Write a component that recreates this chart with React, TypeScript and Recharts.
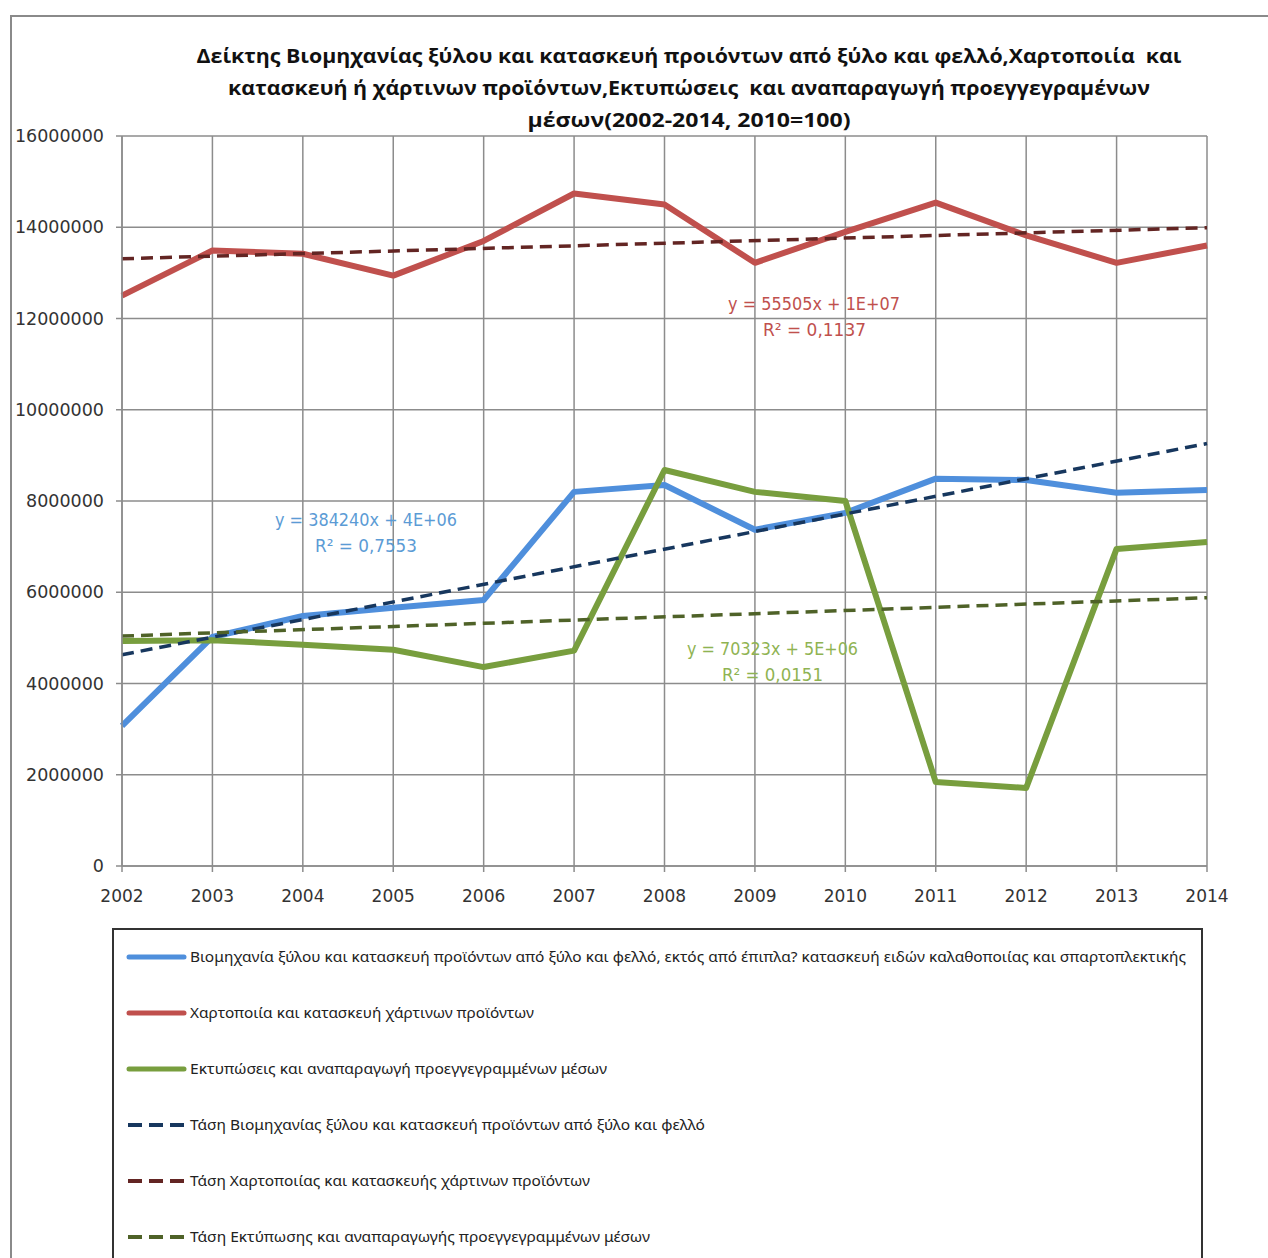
import React from "react";
import { LineChart, Line, XAxis, YAxis, CartesianGrid } from "recharts";

const years = [2002, 2003, 2004, 2005, 2006, 2007, 2008, 2009, 2010, 2011, 2012, 2013, 2014];
const woodValues = [3070000, 5020000, 5480000, 5660000, 5830000, 8200000, 8350000, 7370000, 7740000, 8490000, 8460000, 8180000, 8240000];
const paperValues = [12500000, 13490000, 13420000, 12940000, 13700000, 14740000, 14500000, 13220000, 13900000, 14540000, 13820000, 13220000, 13600000];
const printValues = [4930000, 4950000, 4850000, 4740000, 4360000, 4720000, 8680000, 8200000, 8000000, 1840000, 1710000, 6950000, 7100000];
const woodTrend = [4630000, null, null, null, null, null, null, null, null, null, null, null, 9260000];
const paperTrend = [13310000, null, null, null, null, null, null, null, null, null, null, null, 13990000];
const printTrend = [5040000, null, null, null, null, null, null, null, null, null, null, null, 5880000];
const yTicks = [0, 2000000, 4000000, 6000000, 8000000, 10000000, 12000000, 14000000, 16000000];

const titleLines = [
  "Δείκτης Βιομηχανίας ξύλου και κατασκευή προιόντων από ξύλο και φελλό,Χαρτοποιία  και",
  "κατασκευή ή χάρτινων προϊόντων,Εκτυπώσεις  και αναπαραγωγή προεγγεγραμένων",
  "μέσων(2002-2014, 2010=100)",
];

const legendNames = [
  "Βιομηχανία ξύλου και κατασκευή προϊόντων από ξύλο και φελλό, εκτός από έπιπλα? κατασκευή ειδών καλαθοποιίας και σπαρτοπλεκτικής",
  "Χαρτοποιία και κατασκευή χάρτινων προϊόντων",
  "Εκτυπώσεις και αναπαραγωγή προεγγεγραμμένων μέσων",
  "Τάση Βιομηχανίας ξύλου και κατασκευή προϊόντων από ξύλο και φελλό",
  "Τάση Χαρτοποιίας και κατασκευής χάρτινων προϊόντων",
  "Τάση Εκτύπωσης και αναπαραγωγής προεγγεγραμμένων μέσων",
];

const equations = [
  { a: "y = 55505x + 1E+07", b: "R² = 0,1137" },
  { a: "y = 384240x + 4E+06", b: "R² = 0,7553" },
  { a: "y = 70323x + 5E+06", b: "R² = 0,0151" },
];

const data = years.map((year, i) => ({
  year,
  wood: woodValues[i],
  paper: paperValues[i],
  print: printValues[i],
  woodTrend: woodTrend[i],
  paperTrend: paperTrend[i],
  printTrend: printTrend[i],
}));

const BLUE = "#4f8fdc";
const RED = "#c0504d";
const GREEN = "#789e3e";
const NAVY = "#17375e";
const DRED = "#632523";
const OLIVE = "#4f6228";

const legendStyles = [
  { color: BLUE, dashed: false, width: 996 },
  { color: RED, dashed: false, width: 344 },
  { color: GREEN, dashed: false, width: 417 },
  { color: NAVY, dashed: true, width: 515 },
  { color: DRED, dashed: true, width: 400 },
  { color: OLIVE, dashed: true, width: 460 },
];

export default function App() {
  const titleBase = [63, 95, 127];
  const titleWidths = [985, 922, 323];
  const eqPos = [
    { x: 728, y: 310, wa: 172, xb: 763, wb: 103, c: "#c0504d" },
    { x: 275, y: 526, wa: 182, xb: 315, wb: 102, c: "#5b9bd5" },
    { x: 687, y: 655, wa: 171, xb: 722, wb: 101, c: "#8fb352" },
  ];
  return (
    <div style={{ position: "absolute", left: 0, top: 0, width: 1268, height: 1258, background: "#fff", overflow: "hidden" }}>
      <div style={{ position: "absolute", left: 0, top: 0 }}>
        <LineChart
          width={1268}
          height={1258}
          data={data}
          margin={{ top: 136, right: 61, bottom: 352, left: 0 }}
        >
          <CartesianGrid stroke="#8c8c8c" strokeWidth={1.5} />
          <XAxis
            dataKey="year"
            type="number"
            domain={[2002, 2014]}
            ticks={years}
            height={40}
            tickSize={6}
            tickMargin={18}
            stroke="#8c8c8c"
            strokeWidth={1.5}
            tick={{ fill: "#333", fontSize: 17, fontFamily: "DejaVu Sans" }}
            interval={0}
          />
          <YAxis
            domain={[0, 16000000]}
            ticks={yTicks}
            width={122}
            tickSize={6}
            tickMargin={12}
            stroke="#8c8c8c"
            strokeWidth={1.5}
            tickFormatter={(v) => String(v)}
            tick={{ fill: "#333", fontSize: 17.5, fontFamily: "DejaVu Sans" }}
            interval={0}
          />
          <Line dataKey="wood" stroke={BLUE} strokeWidth={6} dot={false} isAnimationActive={false} strokeLinejoin="round" />
          <Line dataKey="paper" stroke={RED} strokeWidth={6} dot={false} isAnimationActive={false} strokeLinejoin="round" />
          <Line dataKey="print" stroke={GREEN} strokeWidth={6} dot={false} isAnimationActive={false} strokeLinejoin="round" />
          <Line dataKey="woodTrend" stroke={NAVY} strokeWidth={3.5} strokeDasharray="12 7" dot={false} connectNulls isAnimationActive={false} />
          <Line dataKey="paperTrend" stroke={DRED} strokeWidth={3.5} strokeDasharray="12 7" dot={false} connectNulls isAnimationActive={false} />
          <Line dataKey="printTrend" stroke={OLIVE} strokeWidth={3.5} strokeDasharray="12 7" dot={false} connectNulls isAnimationActive={false} />
        </LineChart>
      </div>
      <svg width={1268} height={1258} style={{ position: "absolute", left: 0, top: 0, pointerEvents: "none" }}>
        <path d="M 11 1258 L 11 16 L 1268 16" fill="none" stroke="#8a8a8a" strokeWidth={2} />
        {titleLines.map((t, i) => (
          <text
            key={i}
            x={689 - titleWidths[i] / 2}
            y={titleBase[i]}
            fontFamily="Open Sans"
            fontWeight="bold"
            fontSize={20}
            fill="#111"
            textLength={titleWidths[i]}
            lengthAdjust="spacingAndGlyphs"
            style={{ whiteSpace: "pre" }}
          >
            {t}
          </text>
        ))}
        {equations.map((e, i) => (
          <g key={i} fill={eqPos[i].c} fontFamily="DejaVu Sans" fontSize={17}>
            <text x={eqPos[i].x} y={eqPos[i].y} textLength={eqPos[i].wa} lengthAdjust="spacingAndGlyphs">{e.a}</text>
            <text x={eqPos[i].xb} y={eqPos[i].y + 26} textLength={eqPos[i].wb} lengthAdjust="spacingAndGlyphs">{e.b}</text>
          </g>
        ))}
        <path d="M 113 1258 L 113 929 L 1202 929 L 1202 1258" fill="none" stroke="#333" strokeWidth={2} />
        {legendNames.map((n, i) => {
          const y = 957 + i * 56;
          const s = legendStyles[i];
          return (
            <g key={i}>
              {s.dashed ? (
                <line x1={128} y1={y} x2={184} y2={y} stroke={s.color} strokeWidth={4} strokeDasharray="14 7" />
              ) : (
                <line x1={129} y1={y} x2={184} y2={y} stroke={s.color} strokeWidth={5} strokeLinecap="round" />
              )}
              <text
                x={190}
                y={y + 5}
                fontFamily="Noto Sans"
                fontSize={15}
                fill="#222"
                textLength={s.width}
                lengthAdjust="spacingAndGlyphs"
              >
                {n}
              </text>
            </g>
          );
        })}
      </svg>
    </div>
  );
}
